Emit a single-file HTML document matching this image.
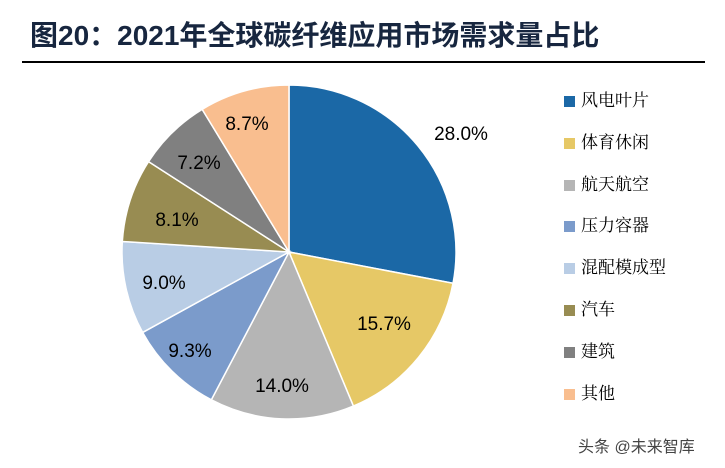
<!DOCTYPE html>
<html><head><meta charset="utf-8"><style>
body{margin:0;background:#fff;width:725px;height:468px;overflow:hidden;position:relative;font-family:"Liberation Sans","Noto Sans CJK SC",sans-serif}
.t{position:absolute;left:30px;top:14px;font-size:28px;font-weight:bold;color:#17263f;white-space:nowrap;letter-spacing:0px}
.ln{position:absolute;left:22px;top:61px;width:683px;height:2px;background:#000}
.lg{position:absolute;left:564px;font-family:"Noto Serif CJK SC","Noto Sans CJK SC",serif;font-size:17px;color:#000;white-space:nowrap}
.lg i{display:inline-block;width:11px;height:11px;margin-right:6px;vertical-align:-1px}
.wm{position:absolute;left:578px;top:433px;font-size:16px;color:#444;white-space:nowrap}
</style></head><body>
<div class="t">图20：2021年全球碳纤维应用市场需求量占比</div>
<div class="ln"></div>
<svg id="s" width="725" height="468" style="position:absolute;left:0;top:0"></svg>
<div class="lg" style="top:86px"><i style="background:#1b68a6"></i>风电叶片</div>
<div class="lg" style="top:128px"><i style="background:#e6c866"></i>体育休闲</div>
<div class="lg" style="top:170px"><i style="background:#b5b5b5"></i>航天航空</div>
<div class="lg" style="top:211px"><i style="background:#7b9bcb"></i>压力容器</div>
<div class="lg" style="top:253px"><i style="background:#b9cde5"></i>混配模成型</div>
<div class="lg" style="top:295px"><i style="background:#988c52"></i>汽车</div>
<div class="lg" style="top:337px"><i style="background:#808080"></i>建筑</div>
<div class="lg" style="top:379px"><i style="background:#f9be8f"></i>其他</div>
<div class="wm">头条 @未来智库</div>
<script>
var d=[28.0,15.7,14.0,9.3,9.0,8.1,7.2,8.7];
var c=["#1b68a6","#e6c866","#b5b5b5","#7b9bcb","#b9cde5","#988c52","#808080","#f9be8f"];
var L=[[461,133],[384,323],[282,385],[190,350],[164,282],[177,219],[199,162],[247,123]];
var cx=289,cy=252,r=167,a=0,h="";
function p(t){return [cx+r*Math.sin(t),cy-r*Math.cos(t)];}
for(var i=0;i<d.length;i++){var b=a+d[i]/100*2*Math.PI;var s=p(a),e=p(b);
h+='<path d="M'+cx+','+cy+'L'+s[0]+','+s[1]+'A'+r+','+r+' 0 '+(b-a>Math.PI?1:0)+' 1 '+e[0]+','+e[1]+'Z" fill="'+c[i]+'" stroke="#fff" stroke-width="1.5"/>';a=b;}
for(var i=0;i<d.length;i++)h+='<text x="'+L[i][0]+'" y="'+(L[i][1]+7)+'" font-size="19" text-anchor="middle" font-family="Liberation Sans,sans-serif" fill="#000">'+d[i].toFixed(1)+'%</text>';
document.getElementById('s').innerHTML=h;
</script>
</body></html>
